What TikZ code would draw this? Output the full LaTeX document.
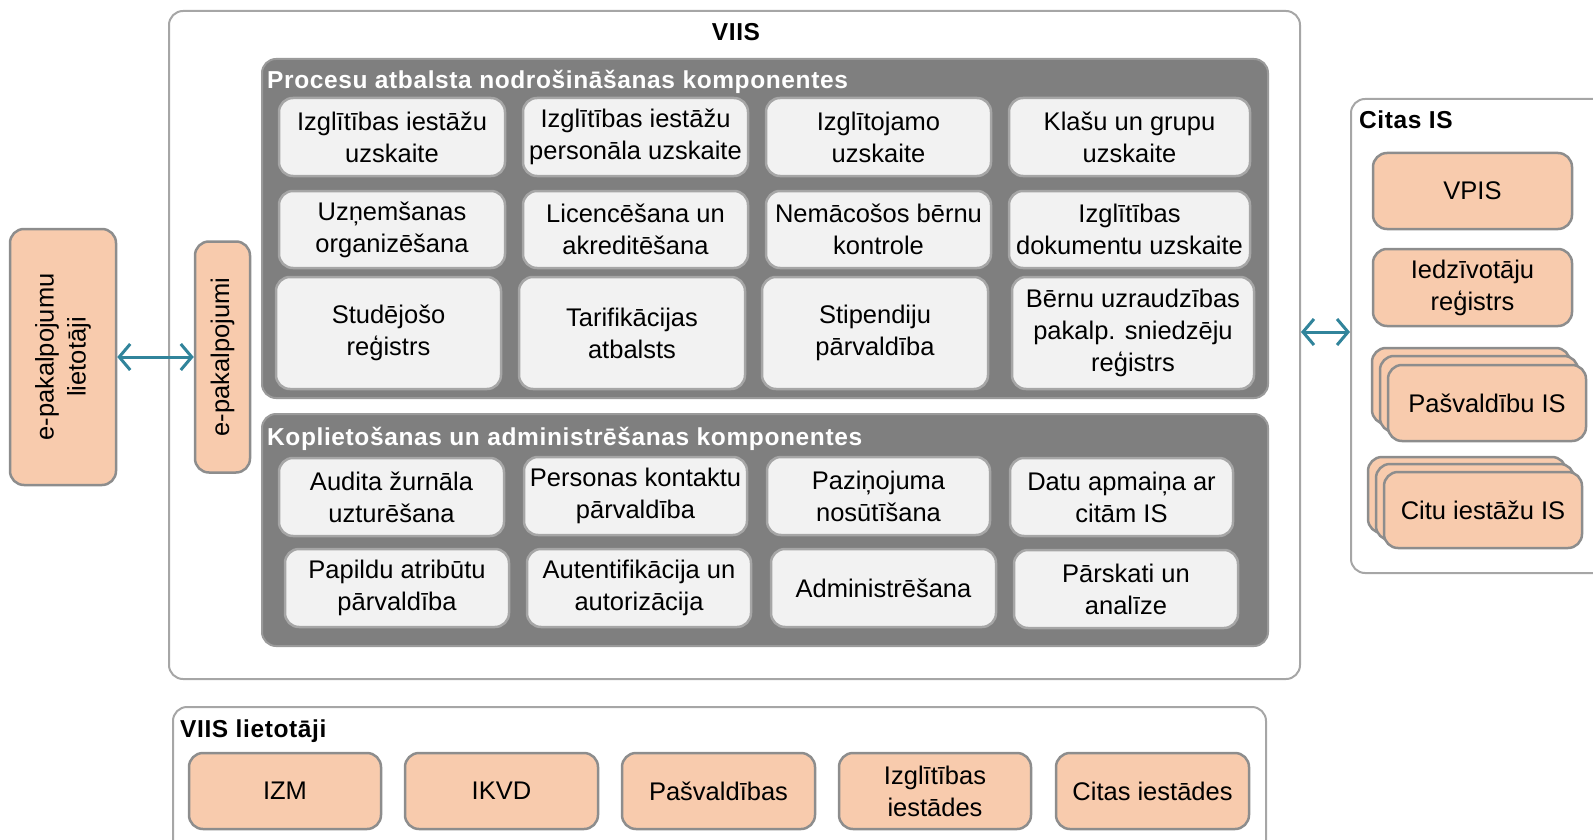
\documentclass[tikz,border=0pt]{standalone}
\usepackage{fontspec}
\setmainfont{Liberation Sans}
\newfontfamily\headfamily[LetterSpace=2.5]{Liberation Sans}
\usetikzlibrary{arrows.meta}
\definecolor{peach}{HTML}{F8CBAD}
\definecolor{panelgray}{HTML}{7F7F7F}
\definecolor{boxgray}{HTML}{F2F2F2}
\definecolor{edgegray}{HTML}{A6A6A6}
\definecolor{linkteal}{HTML}{31849B}
\newcommand\diagfont{\fontsize{25.5}{32}\selectfont}
\tikzset{
    frame/.style={draw=edgegray, line width=2pt, rounded corners=14pt},
    panel/.style={fill=panelgray, draw=edgegray!70!panelgray, line width=2pt, rounded corners=14pt},
    comp/.style={draw=edgegray, fill=boxgray, line width=2.5pt, rounded corners=14pt, align=center, inner sep=1pt},
    ext/.style={draw=edgegray!85!black, fill=peach, line width=2.5pt, rounded corners=14pt, align=center, inner sep=1pt},
    head/.style={font=\headfamily\fontsize{24.5}{31}\selectfont\bfseries, anchor=west, inner sep=0pt},
    link/.style={<->, draw=linkteal, line width=3pt, >={Straight Barb[length=11pt,width=26pt]}},
}

\begin{document}
\begin{tikzpicture}[x=1pt, y=-1pt, font=\diagfont]
    \useasboundingbox (0,0) rectangle (1593,840);
    % VIIS
    \node[frame, minimum width=1131pt, minimum height=668pt] (viis) at (734.5,345) {};
    \node[head, anchor=center] (viistitle) at (736,32) {VIIS};
    % processes
    \node[panel, minimum width=1006pt, minimum height=339pt] (proc) at (765,228.5) {};
    \node[head, text=white] (proctitle) at (267,82) {Procesu atbalsta nodrošināšanas komponentes};
    \node[comp, minimum width=226pt, minimum height=78pt] (c11) at (392,137) {Izglītības iestāžu\\uzskaite};
    \node[comp, minimum width=225pt, minimum height=78pt] (c12) at (635.5,137) {Izglītības iestāžu\\personāla uzskaite};
    \node[comp, minimum width=225pt, minimum height=78pt] (c13) at (878.5,137) {Izglītojamo\\uzskaite};
    \node[comp, minimum width=241pt, minimum height=78pt] (c14) at (1129.5,137) {Klašu un grupu\\uzskaite};
    \node[comp, minimum width=226pt, minimum height=77pt] (c21) at (392,229.5) {Uzņemšanas\\organizēšana};
    \node[comp, minimum width=225pt, minimum height=77pt] (c22) at (635.5,229.5) {Licencēšana un\\akreditēšana};
    \node[comp, minimum width=225pt, minimum height=77pt] (c23) at (878.5,229.5) {Nemācošos bērnu\\kontrole};
    \node[comp, minimum width=241pt, minimum height=77pt] (c24) at (1129.5,229.5) {Izglītības\\dokumentu uzskaite};
    \node[comp, minimum width=225pt, minimum height=112pt] (c31) at (388.5,333) {Studējošo\\reģistrs};
    \node[comp, minimum width=226pt, minimum height=112pt] (c32) at (632,333) {Tarifikācijas\\atbalsts};
    \node[comp, minimum width=226pt, minimum height=112pt] (c33) at (875,333) {Stipendiju\\pārvaldība};
    \node[comp, minimum width=242pt, minimum height=112pt] (c34) at (1133,333) {Bērnu uzraudzības\\pakalp. sniedzēju\\reģistrs};
    % shared / admin
    \node[panel, minimum width=1006pt, minimum height=232pt] (kopl) at (765,530) {};
    \node[head, text=white] (kopltitle) at (267,439) {Koplietošanas un administrēšanas komponentes};
    \node[comp, minimum width=225pt, minimum height=78pt] (k11) at (391.5,497) {Audita žurnāla\\uzturēšana};
    \node[comp, minimum width=223pt, minimum height=78pt] (k12) at (635.5,496) {Personas kontaktu\\pārvaldība};
    \node[comp, minimum width=223pt, minimum height=78pt] (k13) at (878.5,496) {Paziņojuma\\nosūtīšana};
    \node[comp, minimum width=223pt, minimum height=78pt] (k14) at (1121.5,497) {Datu apmaiņa ar\\citām IS};
    \node[comp, minimum width=224pt, minimum height=78pt] (k21) at (397,588) {Papildu atribūtu\\pārvaldība};
    \node[comp, minimum width=224pt, minimum height=78pt] (k22) at (639,588) {Autentifikācija un\\autorizācija};
    \node[comp, minimum width=225pt, minimum height=78pt] (k23) at (883.5,588) {Administrēšana};
    \node[comp, minimum width=224pt, minimum height=78pt] (k24) at (1126,589) {Pārskati un\\analīze};
    % e-services
    \node[ext, rotate=90, minimum width=256pt, minimum height=106pt] (lietotaji) at (63,357) {e-pakalpojumu\\lietotāji};
    \node[ext, rotate=90, minimum width=231pt, minimum height=55pt] (epak) at (222.5,357) {e-pakalpojumi};
    \draw[link] (lietotaji.south) -- (epak.north);
    % other IS
    \node[frame, minimum width=264pt, minimum height=474pt] (citas) at (1483,336) {};
    \node[head] (citastitle) at (1359,120) {Citas IS};
    \node[ext, minimum width=199pt, minimum height=76pt] (vpis) at (1472.5,191) {VPIS};
    \node[ext, minimum width=199pt, minimum height=77pt] (iedz) at (1472.5,287.5) {Iedzīvotāju\\reģistrs};
    \node[ext, minimum width=198pt, minimum height=76pt] (pasv1) at (1471,386) {};
    \node[ext, minimum width=198pt, minimum height=76pt] (pasv2) at (1479,394) {};
    \node[ext, minimum width=198pt, minimum height=76pt] (pasv) at (1487,403) {Pašvaldību IS};
    \node[ext, minimum width=198pt, minimum height=76pt] (citu1) at (1467,495) {};
    \node[ext, minimum width=198pt, minimum height=76pt] (citu2) at (1475,502) {};
    \node[ext, minimum width=198pt, minimum height=76pt] (citu) at (1483,510) {Citu iestāžu IS};
    \coordinate (lnk) at (0,332);
    \draw[link] (viis.east |- lnk) -- (citas.west |- lnk);
    % users
    \node[frame, minimum width=1093pt, minimum height=153pt] (users) at (719.5,783.5) {};
    \node[head] (userstitle) at (180,731) {VIIS lietotāji};
    \node[ext, minimum width=192pt, minimum height=76pt] (izm) at (285,791) {IZM};
    \node[ext, minimum width=193pt, minimum height=76pt] (ikvd) at (501.5,791) {IKVD};
    \node[ext, minimum width=193pt, minimum height=76pt] (pasvald) at (718.5,791) {Pašvaldības};
    \node[ext, minimum width=192pt, minimum height=76pt] (izglie) at (935,791) {Izglītības\\iestādes};
    \node[ext, minimum width=193pt, minimum height=76pt] (citasie) at (1152.5,791) {Citas iestādes};
\end{tikzpicture}
\end{document}
